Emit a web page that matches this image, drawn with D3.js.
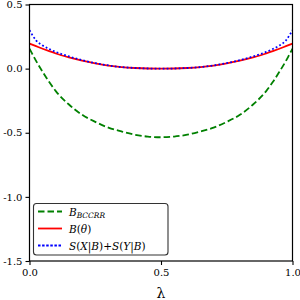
<!DOCTYPE html>
<html>
<head>
<meta charset="utf-8">
<script src="https://cdnjs.cloudflare.com/ajax/libs/d3/7.8.5/d3.min.js"></script>
<style>
  html, body { margin: 0; padding: 0; background: #fff; }
  svg { display: block; }
</style>
</head>
<body>
<div id="chart"></div>
<script>
// values
var lambdaVals = [0, 0.01, 0.025, 0.05, 0.075, 0.1, 0.15, 0.2, 0.25, 0.3, 0.35, 0.4, 0.45, 0.5,
                  0.55, 0.6, 0.65, 0.7, 0.75, 0.8, 0.85, 0.9, 0.925, 0.95, 0.975, 0.99, 1];
var bccrrVals = [0.155, 0.117, 0.06, -0.025, -0.105, -0.175, -0.28, -0.36, -0.415, -0.46, -0.49, -0.515, -0.53, -0.535,
                 -0.53, -0.515, -0.49, -0.46, -0.415, -0.36, -0.28, -0.175, -0.105, -0.025, 0.06, 0.117, 0.155];
var bThetaVals = [0.195, 0.187, 0.175, 0.155, 0.136, 0.118, 0.088, 0.062, 0.041, 0.024, 0.012, 0.005, 0.001, 0,
                  0.001, 0.005, 0.012, 0.024, 0.041, 0.062, 0.088, 0.118, 0.136, 0.155, 0.175, 0.187, 0.195];
var sumVals = [0.30, 0.265, 0.22, 0.18, 0.153, 0.13, 0.095, 0.066, 0.043, 0.025, 0.012, 0.005, 0.001, 0,
               0.001, 0.005, 0.012, 0.025, 0.043, 0.066, 0.095, 0.13, 0.153, 0.18, 0.22, 0.265, 0.30];
var xTicks = [0, 0.5, 1];
var yTicks = [0.5, 0, -0.5, -1, -1.5];

var W = 300, H = 300;
var pLeft = 29.5, pRight = 292.5, pTop = 4.5, pBottom = 261;
var serif = "'DejaVu Serif', serif";

var svg = d3.select("#chart").append("svg")
    .attr("width", W).attr("height", H);

var x = d3.scaleLinear().domain([0, 1]).range([pLeft, pRight]);
var y = d3.scaleLinear().domain([-1.5, 0.5]).range([pBottom, pTop]);

svg.append("defs").append("clipPath").attr("id", "clip")
    .append("rect").attr("x", pLeft).attr("y", pTop)
    .attr("width", pRight - pLeft).attr("height", pBottom - pTop);

function series(vals) {
    return lambdaVals.map(function(l, i) { return [l, vals[i]]; });
}
var line = d3.line()
    .curve(d3.curveMonotoneX)
    .x(function(d) { return x(d[0]); })
    .y(function(d) { return y(d[1]); });

var plot = svg.append("g").attr("clip-path", "url(#clip)");

plot.append("path").datum(series(bccrrVals))
    .attr("d", line).attr("fill", "none")
    .attr("stroke", "#008000").attr("stroke-width", 1.8)
    .attr("stroke-dasharray", "6.5,3");
plot.append("path").datum(series(bThetaVals))
    .attr("d", line).attr("fill", "none")
    .attr("stroke", "#ff0000").attr("stroke-width", 1.8);
plot.append("path").datum(series(sumVals))
    .attr("d", line).attr("fill", "none")
    .attr("stroke", "#0000ff").attr("stroke-width", 1.8)
    .attr("stroke-dasharray", "1.8,2.2");

// axes (d3.format puts a U+2212 minus, swap it for a short hyphen)
var fmt = function(d) { return d3.format(".1f")(d).replace("\u2212", "-"); };
var xAxis = d3.axisBottom(x).tickValues(xTicks).tickFormat(fmt).tickSizeOuter(0).tickSize(4).tickPadding(4);
var yAxis = d3.axisLeft(y).tickValues(yTicks).tickFormat(fmt).tickSizeOuter(0).tickSize(4).tickPadding(3);

var gx = svg.append("g").attr("transform", "translate(0," + pBottom + ")").call(xAxis);
var gy = svg.append("g").attr("transform", "translate(" + pLeft + ",0)").call(yAxis);
[gx, gy].forEach(function(g) {
    g.attr("font-family", serif).attr("font-size", 10);
    g.select(".domain").remove();
    g.selectAll(".tick line").attr("stroke", "#000").attr("stroke-width", 1.1);
    g.selectAll(".tick text").attr("fill", "#000");
});

// spines
svg.append("rect")
    .attr("x", pLeft).attr("y", pTop)
    .attr("width", pRight - pLeft).attr("height", pBottom - pTop)
    .attr("fill", "none").attr("stroke", "#000").attr("stroke-width", 1.2);

svg.append("text")
    .attr("x", x(0.5)).attr("y", 298)
    .attr("text-anchor", "middle")
    .attr("font-family", serif)
    .attr("font-size", 14)
    .text("\u03bb");

// legend
var legend = svg.append("g");
legend.append("rect")
    .attr("x", 33.5).attr("y", 203.5).attr("width", 134.5).attr("height", 51.5)
    .attr("rx", 3).attr("fill", "#fff").attr("fill-opacity", 0.85)
    .attr("stroke", "#333").attr("stroke-width", 1.1);

var items = [
    { color: "#008000", dash: "6.5,3" },
    { color: "#ff0000", dash: null },
    { color: "#0000ff", dash: "2.5,1.6" }
];
var rowY = [211.5, 228.5, 245.5];
items.forEach(function(it, i) {
    var l = legend.append("line")
        .attr("x1", 38).attr("x2", 62).attr("y1", rowY[i]).attr("y2", rowY[i])
        .attr("stroke", it.color).attr("stroke-width", 1.8);
    if (it.dash) l.attr("stroke-dasharray", it.dash);
});

function label(yy) {
    return legend.append("text")
        .attr("x", 69).attr("y", yy + 4)
        .attr("font-family", serif)
        .attr("font-size", 10.5);
}
var t0 = label(rowY[0]);
t0.append("tspan").attr("font-style", "italic").text("B");
t0.append("tspan").attr("font-style", "italic").attr("font-size", 7.5).attr("dy", 2.5).text("BCCRR");

var t1 = label(rowY[1]);
t1.append("tspan").attr("font-style", "italic").text("B");
t1.append("tspan").text("(");
t1.append("tspan").attr("font-style", "italic").text("\u03b8");
t1.append("tspan").text(")");

var t2 = label(rowY[2]);
t2.append("tspan").attr("font-style", "italic").text("S");
t2.append("tspan").text("(");
t2.append("tspan").attr("font-style", "italic").text("X");
t2.append("tspan").text("|");
t2.append("tspan").attr("font-style", "italic").text("B");
t2.append("tspan").text(")+");
t2.append("tspan").attr("font-style", "italic").text("S");
t2.append("tspan").text("(");
t2.append("tspan").attr("font-style", "italic").text("Y");
t2.append("tspan").text("|");
t2.append("tspan").attr("font-style", "italic").text("B");
t2.append("tspan").text(")");
</script>
</body>
</html>
